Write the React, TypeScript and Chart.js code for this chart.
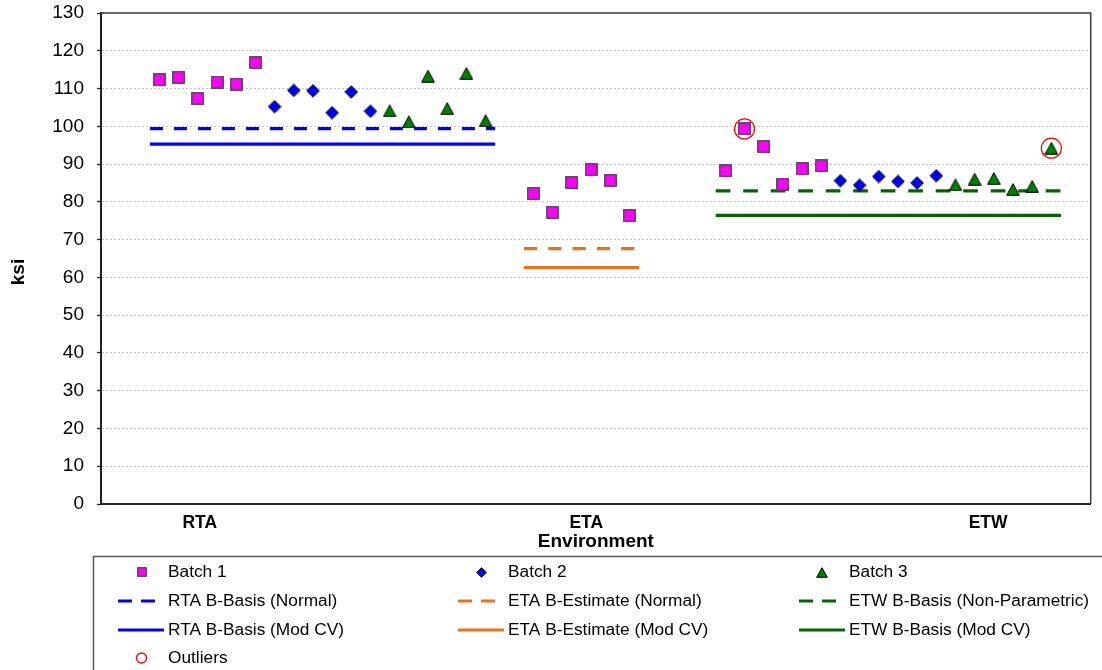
import React, { useEffect, useRef } from 'react';
import { Chart, registerables } from 'chart.js';

Chart.register(...registerables);

const FONT = "'Liberation Sans', Arial, sans-serif";

// Category axis labels and their positions on the x scale
const categoryLabels = ['RTA', 'ETA', 'ETW'];
const categoryTickPos = [5.1, 25.25, 46.2];

// Specimen slot positions along the x axis
const rtaBatch1X = [3, 4, 5, 6, 7, 8];
const rtaBatch2X = [9, 10, 11, 12, 13, 14];
const rtaBatch3X = [15, 16, 17, 18, 19, 20];
const etaBatch1X = [22.5, 23.5, 24.5, 25.5, 26.5, 27.5];
const etwBatch1X = [32.5, 33.5, 34.5, 35.5, 36.5, 37.5];
const etwBatch2X = [38.5, 39.5, 40.5, 41.5, 42.5, 43.5];
const etwBatch3X = [44.5, 45.5, 46.5, 47.5, 48.5, 49.5];

// Strength values (ksi)
const rtaBatch1 = [112.3, 113.0, 107.4, 111.7, 111.2, 116.8];
const rtaBatch2 = [105.2, 109.5, 109.4, 103.6, 109.1, 104.0];
const rtaBatch3 = [104.1, 101.2, 113.3, 104.7, 114.0, 101.5];
const etaBatch1 = [82.2, 77.2, 85.1, 88.5, 85.7, 76.3];
const etwBatch1 = [88.2, 99.3, 94.6, 84.7, 88.7, 89.5];
const etwBatch2 = [85.6, 84.4, 86.7, 85.4, 85.0, 86.9];
const etwBatch3 = [84.5, 86.0, 86.2, 83.3, 84.1, 94.2];

// Outliers
const outlierX = [33.5, 49.5];
const outlierY = [99.3, 94.2];

// Basis values and their x spans
const rtaSpan = [2.5, 20.5];
const etaSpan = [22, 28];
const etwSpan = [32, 50];
const rtaBasisNormal = 99.4;
const rtaBasisModCV = 95.3;
const etaEstimateNormal = 67.6;
const etaEstimateModCV = 62.6;
const etwBasisNonPar = 82.9;
const etwBasisModCV = 76.4;

const BLUE = '#0000FF';
const ORANGE = '#E8731A';
const DKGREEN = '#006600';
const MAGENTA = '#FF00FF';
const TRIGREEN = '#008000';

function pts(xs: number[], ys: number[]) {
  return xs.map((x, i) => ({ x, y: ys[i] }));
}

function makeSquare(s: number) {
  const c = document.createElement('canvas');
  c.width = s; c.height = s;
  const g = c.getContext('2d')!;
  g.fillStyle = MAGENTA;
  g.fillRect(0.5, 0.5, s - 1, s - 1);
  g.strokeStyle = '#4a4a4a';
  g.lineWidth = 1.3;
  g.strokeRect(0.75, 0.75, s - 1.5, s - 1.5);
  return c;
}
function makeDiamond(s: number) {
  const c = document.createElement('canvas');
  c.width = s; c.height = s;
  const g = c.getContext('2d')!;
  const h = s / 2;
  g.beginPath();
  g.moveTo(h, 0.7); g.lineTo(s - 0.7, h); g.lineTo(h, s - 0.7); g.lineTo(0.7, h); g.closePath();
  g.fillStyle = BLUE; g.fill();
  g.strokeStyle = '#000'; g.lineWidth = 1; g.stroke();
  return c;
}
function makeTriangle(w: number, hgt: number) {
  const c = document.createElement('canvas');
  c.width = w; c.height = hgt;
  const g = c.getContext('2d')!;
  g.beginPath();
  g.moveTo(w / 2, 0.7); g.lineTo(w - 0.7, hgt - 0.7); g.lineTo(0.7, hgt - 0.7); g.closePath();
  g.fillStyle = TRIGREEN; g.fill();
  g.strokeStyle = '#000'; g.lineWidth = 1; g.stroke();
  return c;
}

export default function App() {
  const ref = useRef<HTMLCanvasElement>(null);

  useEffect(() => {
    const canvas = ref.current!;
    const sq = makeSquare(13);
    const dia = makeDiamond(14);
    const tri = makeTriangle(14, 13);
    const sqL = makeSquare(10);
    const diaL = makeDiamond(11);
    const triL = makeTriangle(12, 11);

    const lineDs = (label: string, span: number[], v: number, color: string, dash: number[]) => ({
      label,
      data: [{ x: span[0], y: v }, { x: span[1], y: v }],
      showLine: true,
      borderColor: color,
      backgroundColor: color,
      borderWidth: 3.2,
      borderDash: dash,
      borderCapStyle: 'butt',
      pointRadius: 0,
      order: 10,
    });

    const legendPlugin = {
      id: 'customLegend',
      afterDraw(chart: any) {
        const ctx = chart.ctx as CanvasRenderingContext2D;
        const { left, right, top, bottom } = chart.chartArea;
        ctx.save();
        // plot box top/right
        ctx.strokeStyle = '#3a3a3a';
        ctx.lineWidth = 1.5;
        ctx.beginPath();
        ctx.moveTo(left, top); ctx.lineTo(right, top); ctx.lineTo(right, bottom);
        ctx.stroke();

        // y-axis title
        ctx.fillStyle = '#000';
        ctx.font = `bold 19px ${FONT}`;
        ctx.textAlign = 'center';
        ctx.textBaseline = 'middle';
        ctx.save();
        ctx.translate(19, 272);
        ctx.rotate(-Math.PI / 2);
        ctx.fillText('ksi', 0, 0);
        ctx.restore();

        // legend box
        ctx.strokeStyle = '#5a5a5a';
        ctx.lineWidth = 1.5;
        ctx.strokeRect(93.5, 556.5, 1040, 200);

        const markX = [141.5, 481.5, 821.5];
        const lineX0 = [118, 458, 799];
        const textX = [168, 508, 849];
        const rowY = [572, 601, 630, 658];
        const colors = [BLUE, ORANGE, DKGREEN];

        ctx.font = `17.3px ${FONT}`;
        ctx.textAlign = 'left';
        ctx.textBaseline = 'middle';
        ctx.fillStyle = '#000';

        const markers = [sqL, diaL, triL];
        const batchNames = ['Batch 1', 'Batch 2', 'Batch 3'];
        const normalNames = ['RTA B-Basis (Normal)', 'ETA B-Estimate (Normal)', 'ETW B-Basis (Non-Parametric)'];
        const modNames = ['RTA B-Basis (Mod CV)', 'ETA B-Estimate (Mod CV)', 'ETW B-Basis (Mod CV)'];

        for (let i = 0; i < 3; i++) {
          const m = markers[i];
          ctx.drawImage(m, Math.round(markX[i] - m.width / 2), Math.round(rowY[0] - m.height / 2));
          ctx.fillText(batchNames[i], textX[i], rowY[0]);

          ctx.strokeStyle = colors[i];
          ctx.lineWidth = 3.2;
          ctx.setLineDash([14, 9]);
          ctx.beginPath();
          ctx.moveTo(lineX0[i], rowY[1]); ctx.lineTo(lineX0[i] + 38, rowY[1]);
          ctx.stroke();
          ctx.setLineDash([]);
          ctx.fillText(normalNames[i], textX[i], rowY[1]);

          ctx.beginPath();
          ctx.moveTo(lineX0[i], rowY[2]); ctx.lineTo(lineX0[i] + 46, rowY[2]);
          ctx.stroke();
          ctx.fillText(modNames[i], textX[i], rowY[2]);
        }
        ctx.strokeStyle = '#FF0000';
        ctx.lineWidth = 1.3;
        ctx.beginPath();
        ctx.arc(markX[0], rowY[3], 5, 0, Math.PI * 2);
        ctx.stroke();
        ctx.fillText('Outliers', textX[0], rowY[3]);
        ctx.restore();
      },
    };

    const chart = new Chart(canvas, {
      type: 'scatter',
      data: {
        datasets: [
          {
            label: 'Outliers',
            data: pts(outlierX, outlierY),
            pointStyle: 'circle',
            pointRadius: 10,
            backgroundColor: 'rgba(0,0,0,0)',
            borderColor: '#FF0000',
            borderWidth: 1.3,
            order: 0,
          },
          {
            label: 'Batch 1',
            data: [...pts(rtaBatch1X, rtaBatch1), ...pts(etaBatch1X, etaBatch1), ...pts(etwBatch1X, etwBatch1)],
            pointStyle: sq,
            order: 1,
          },
          {
            label: 'Batch 2',
            data: [...pts(rtaBatch2X, rtaBatch2), ...pts(etwBatch2X, etwBatch2)],
            pointStyle: dia,
            order: 1,
          },
          {
            label: 'Batch 3',
            data: [...pts(rtaBatch3X, rtaBatch3), ...pts(etwBatch3X, etwBatch3)],
            pointStyle: tri,
            order: 1,
          },
          lineDs('RTA B-Basis (Normal)', rtaSpan, rtaBasisNormal, BLUE, [13, 11]),
          lineDs('RTA B-Basis (Mod CV)', rtaSpan, rtaBasisModCV, BLUE, []),
          lineDs('ETA B-Estimate (Normal)', etaSpan, etaEstimateNormal, ORANGE, [13.3, 11]),
          lineDs('ETA B-Estimate (Mod CV)', etaSpan, etaEstimateModCV, ORANGE, []),
          lineDs('ETW B-Basis (Non-Parametric)', etwSpan, etwBasisNonPar, DKGREEN, [14.7, 12.8]),
          lineDs('ETW B-Basis (Mod CV)', etwSpan, etwBasisModCV, DKGREEN, []),
        ] as any,
      },
      options: {
        responsive: false,
        animation: false,
        events: [],
        layout: { padding: { left: 0, top: 13, right: 10, bottom: 114 } },
        plugins: {
          legend: { display: false },
          tooltip: { enabled: false },
        },
        scales: {
          x: {
            type: 'linear',
            min: -0.05,
            max: 51.55,
            afterFit: (scale: any) => {
              scale.height = 52;
              scale.paddingLeft = 0;
              scale.paddingRight = 0;
            },
            afterBuildTicks: (scale: any) => {
              scale.ticks = categoryTickPos.map((v) => ({ value: v }));
            },
            grid: { display: false, drawTicks: false },
            border: { display: true, color: '#222', width: 2 },
            ticks: {
              autoSkip: false,
              maxRotation: 0,
              padding: 9,
              color: '#000',
              font: { family: FONT, size: 17.5, weight: 'bold' },
              callback: (_v: any, i: number) => categoryLabels[i],
            },
            title: {
              display: true,
              text: 'Environment',
              color: '#000',
              font: { family: FONT, size: 19, weight: 'bold' },
              padding: { top: 0, bottom: 3 },
            },
          },
          y: {
            min: 0,
            max: 130,
            afterFit: (scale: any) => {
              scale.width = 101;
              scale.paddingTop = 0;
              scale.paddingBottom = 0;
            },
            grid: {
              color: '#c4c4c4',
              lineWidth: 1,
              drawTicks: true,
              tickLength: 4,
              tickColor: '#222',
              tickWidth: 1.3,
              tickBorderDash: [],
            },
            border: { display: true, color: '#222', width: 2, dash: [2, 2] },
            ticks: {
              stepSize: 10,
              padding: 13,
              color: '#000',
              font: { family: FONT, size: 19 },
            },
          },
        },
      } as any,
      plugins: [legendPlugin],
    });
    return () => chart.destroy();
  }, []);

  return (
    <div style={{ position: 'fixed', left: 0, top: 0, width: 1102, height: 670, background: '#fff' }}>
      <canvas ref={ref} width={1102} height={670} style={{ display: 'block', width: 1102, height: 670 }} />
    </div>
  );
}
